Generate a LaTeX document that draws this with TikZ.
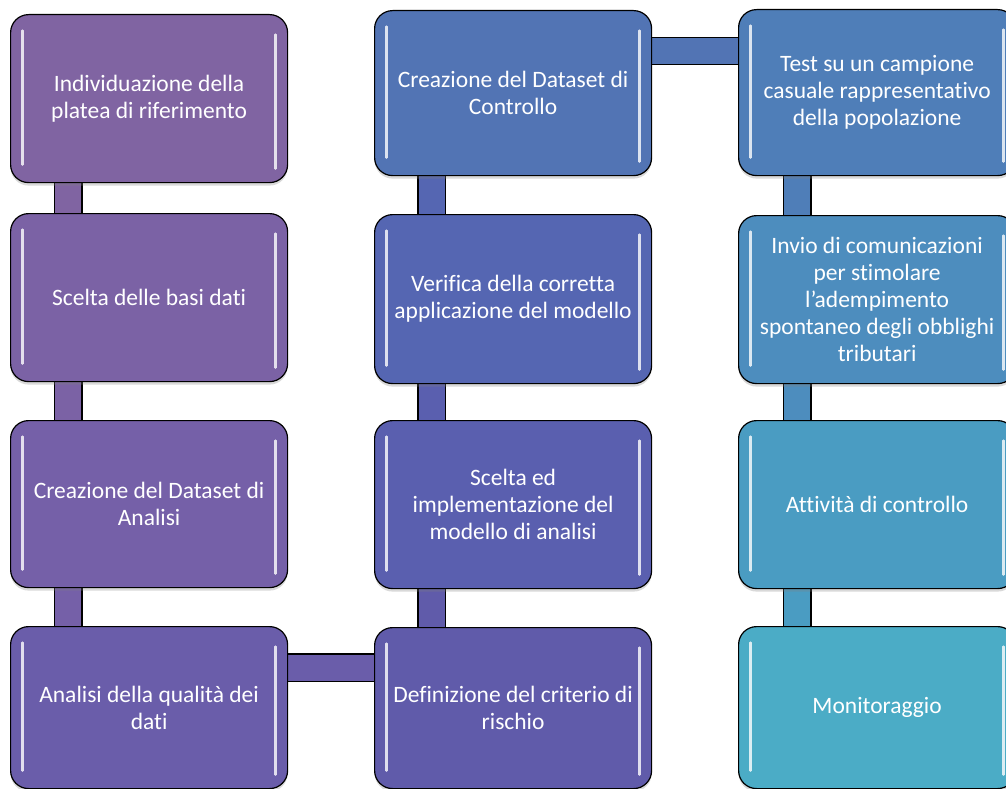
\documentclass[tikz,border=0pt]{standalone}
\usepackage{fontspec}
\setmainfont{Carlito}[Ligatures=NoCommon]
\usetikzlibrary{backgrounds,shadows}
\definecolor{c1}{RGB}{128,100,162}
\definecolor{c2}{RGB}{123,98,165}
\definecolor{c3}{RGB}{117,96,168}
\definecolor{c4}{RGB}{106,93,170}
\definecolor{c5}{RGB}{96,91,170}
\definecolor{c6}{RGB}{90,95,175}
\definecolor{c7}{RGB}{85,102,178}
\definecolor{c8}{RGB}{82,116,180}
\definecolor{c9}{RGB}{79,126,184}
\definecolor{c10}{RGB}{77,141,190}
\definecolor{c11}{RGB}{74,156,194}
\definecolor{c12}{RGB}{75,172,198}
\tikzset{
  hl/.style={white,line width=2.4pt,line cap=round,opacity=0.8},
  stage/.style={fill=#1,draw=black,line width=1.2pt,rounded corners=18pt,
    minimum width=277pt,minimum height=167pt,inner sep=0pt,anchor=north west,
    text=white,align=center,font=\fontsize{23.5}{27}\selectfont,
    drop shadow={opacity=0.3,shadow xshift=0pt,shadow yshift=-3pt},
    path picture={
      \draw[hl] ([xshift=12pt,yshift=-16pt]path picture bounding box.north west)
        -- ([xshift=12pt,yshift=18pt]path picture bounding box.south west);
      \draw[hl] ([xshift=-12pt,yshift=-20pt]path picture bounding box.north east)
        -- ([xshift=-12pt,yshift=14pt]path picture bounding box.south east);}},
  link/.style={draw=black,line width=1.4pt,double=#1,double distance=26pt},
}
\begin{document}
\begin{tikzpicture}[x=1pt,y=-1pt]
\useasboundingbox (0,0) rectangle (1006,789);
%%
\node (node_1) at (10,14) [stage=c1,minimum height=168pt] {Individuazione della\\platea di riferimento};
\node (node_2) at (10,213) [stage=c2,minimum height=168pt] {Scelta delle basi dati};
\node (node_3) at (10,420) [stage=c3] {Creazione del Dataset di\\Analisi};
\node (node_4) at (10,626) [stage=c4,minimum height=162pt] {Analisi della qualità dei\\dati};
\node (node_5) at (374,627) [stage=c5,minimum height=161pt] {Definizione del criterio di\\rischio};
\node (node_6) at (374,420) [stage=c6,minimum height=168pt] {Scelta ed\\implementazione del\\modello di analisi};
\node (node_7) at (374,214) [stage=c7,minimum height=169pt] {Verifica della corretta\\applicazione del modello};
\node (node_8) at (374,10) [stage=c8,minimum height=165pt] {Creazione del Dataset di\\Controllo};
\node (node_9) at (738,9) [stage=c9,minimum height=166pt] {Test su un campione\\casuale rappresentativo\\della popolazione};
\node (node_10) at (738,215) [stage=c10,minimum height=168pt] {Invio di comunicazioni\\per stimolare\\l’adempimento\\spontaneo degli obblighi\\tributari};
\node (node_11) at (738,420) [stage=c11,minimum height=168pt] {Attività di controllo};
\node (node_12) at (738,626) [stage=c12,minimum height=162pt] {Monitoraggio};
%
\begin{scope}[on background layer]
\draw [link=c1] ([xshift=-81pt]node_1.center) -- ([xshift=-81pt]node_2.center);
\draw [link=c2] ([xshift=-81pt]node_2.center) -- ([xshift=-81pt]node_3.center);
\draw [link=c3] ([xshift=-81pt]node_3.center) -- ([xshift=-81pt]node_4.center);
\draw [link=c4] ([yshift=40pt]node_4.center) -- ([yshift=40pt]node_4.center -| node_5.center);
\draw [link=c5] ([xshift=-81.5pt]node_5.center) -- ([xshift=-81.5pt]node_6.center);
\draw [link=c6] ([xshift=-81.5pt]node_6.center) -- ([xshift=-81.5pt]node_7.center);
\draw [link=c7] ([xshift=-81.5pt]node_7.center) -- ([xshift=-81.5pt]node_8.center);
\draw [link=c8] ([yshift=42pt]node_8.center) -- ([yshift=42pt]node_8.center -| node_9.center);
\draw [link=c9] ([xshift=-80pt]node_9.center) -- ([xshift=-80pt]node_10.center);
\draw [link=c10] ([xshift=-80pt]node_10.center) -- ([xshift=-80pt]node_11.center);
\draw [link=c11] ([xshift=-80pt]node_11.center) -- ([xshift=-80pt]node_12.center);
\end{scope}
%
\end{tikzpicture}
\end{document}
